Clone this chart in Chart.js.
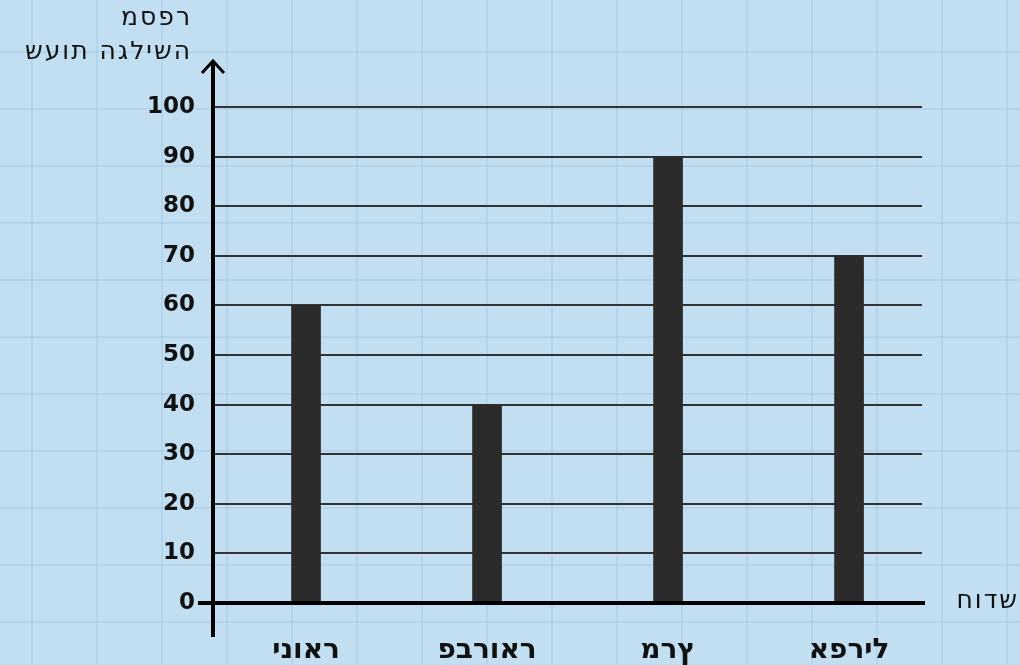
<!DOCTYPE html>
<html><head><meta charset="utf-8">
<script src="https://cdn.jsdelivr.net/npm/chart.js@4"></script>
<style>
html,body{margin:0;padding:0;}
body{width:1020px;height:665px;overflow:hidden;background-color:#c2dff2;
background-image:linear-gradient(to right, rgba(120,170,205,0.2) 0 2px, transparent 2px),
linear-gradient(to bottom, rgba(120,170,205,0.2) 0 2px, transparent 2px);
background-size:65px 57px;background-position:31px 51px;}
canvas{display:block;}
</style></head><body>
<canvas id="c" width="1020" height="665"></canvas>
<script>
const months = ['ינואר','פברואר','מרץ','אפריל'];
const hours = [60, 40, 90, 70];
const yTickValues = [0,10,20,30,40,50,60,70,80,90,100];
const yTitleLines = ['מספר','שעות הגלישה'];
const xTitle = 'חודש';

// the renderer draws canvas text without bidi reordering, so Hebrew is laid out in visual order
const visual = (s) => Array.from(s).reverse().join('');

const axesPlugin = {
  id: 'axesDeco',
  afterDatasetsDraw(chart) {
    const {ctx, scales: {y}, chartArea: a} = chart;
    const y0 = y.getPixelForValue(0);
    const yTop = y.getPixelForValue(100);
    ctx.save();
    ctx.strokeStyle = '#000';
    ctx.lineCap = 'butt';
    ctx.lineWidth = 4;
    ctx.beginPath(); ctx.moveTo(a.left - 15, y0); ctx.lineTo(a.right + 3, y0); ctx.stroke();
    ctx.beginPath(); ctx.moveTo(a.left, yTop - 45); ctx.lineTo(a.left, y0 + 34); ctx.stroke();
    ctx.lineWidth = 3;
    ctx.lineJoin = 'miter';
    ctx.beginPath();
    ctx.moveTo(a.left - 11, yTop - 34);
    ctx.lineTo(a.left, yTop - 46);
    ctx.lineTo(a.left + 11, yTop - 34);
    ctx.stroke();
    ctx.fillStyle = '#111';
    ctx.textAlign = 'right';
    ctx.textBaseline = 'middle';
    ctx.font = '25px "DejaVu Sans", sans-serif';
    if ('letterSpacing' in ctx) ctx.letterSpacing = '2px';
    ctx.fillText(visual(yTitleLines[0]), a.left - 21, yTop - 89);
    ctx.fillText(visual(yTitleLines[1]), a.left - 21, yTop - 55);
    ctx.fillText(visual(xTitle), 1019, y0 - 2);
    ctx.restore();
  }
};

new Chart(document.getElementById('c'), {
  type: 'bar',
  data: {
    datasets: [{
      data: months.map((m, i) => ({x: i, y: hours[i]})),
      backgroundColor: '#2b2b2b',
      borderWidth: 0,
      barThickness: 29
    }]
  },
  options: {
    responsive: false,
    animation: false,
    events: [],
    layout: {padding: {left: 133, right: 98, top: 107, bottom: 0}},
    plugins: {legend: {display: false}, tooltip: {enabled: false}},
    scales: {
      x: {
        type: 'linear',
        min: -0.514,
        max: 3.403,
        offset: false,
        afterBuildTicks: (s) => { s.ticks = months.map((m, i) => ({value: i})); },
        afterFit: (s) => { s.height = 62; },
        grid: {display: false},
        border: {display: false},
        ticks: {
          autoSkip: false,
          maxRotation: 0,
          padding: 23,
          color: '#111',
          font: {family: '"DejaVu Sans", sans-serif', size: 28, weight: 'bold'},
          callback: (v) => months[v] !== undefined ? visual(months[v]) : ''
        }
      },
      y: {
        min: 0,
        max: 100,
        afterFit: (s) => { s.width = 80; },
        afterBuildTicks: (s) => { s.ticks = yTickValues.map(v => ({value: v})); },
        grid: {color: '#333333', lineWidth: 2, drawTicks: false},
        border: {display: false},
        ticks: {
          padding: 18,
          color: '#111',
          font: {family: '"DejaVu Sans", sans-serif', size: 23, weight: 'bold'}
        }
      }
    }
  },
  plugins: [axesPlugin]
});
</script>
</body></html>
